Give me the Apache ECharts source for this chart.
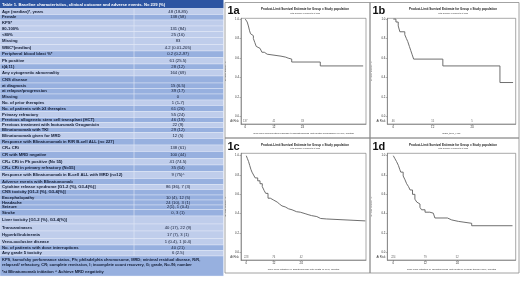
<!DOCTYPE html>
<html lang="en">
<head>
<meta charset="UTF-8" />
<title>Table 1 and survival curves</title>
<script src="https://cdn.jsdelivr.net/npm/echarts@6.0.0/dist/echarts.min.js"></script>
<style>
  html, body { margin: 0; padding: 0; background: #fff; }
  #main { width: 520px; height: 292px; }
</style>
</head>
<body>
<div id="main"></div>
<script>
// ---- table data ----
const tableTitle = 'Table 1. Baseline characteristics, clinical outcome and adverse events. N= 239 (%)';
const rowLabels = [
  'Age (median)*, years', 'Female', 'KPS*', '80-100%', '<80%', 'Missing',
  'WBC*(median)', 'Peripheral blood blast %*', 'Ph positive', 't(4;11)',
  'Any cytogenetic abnormality', 'CNS disease', 'at diagnosis', 'at relapse/progression', 'Missing',
  'No. of prior therapies', 'No. of patients with \u22653 therapies', 'Primary refractory',
  'Previous allogeneic stem cell transplant (HCT)', 'Previous treatment with Inotuzumab Ozogamicin',
  'Blinatumomab with TKI', 'Blinatumomab given for MRD',
  'Response with Blinatumomab in R/R B-cell ALL (n= 227)', 'CR+ CRi', 'CR with MRD negative',
  'CR+ CRi in Ph positive (N= 55)', 'CR+ CRi in primary refractory (N=55)',
  'Response with Blinatumomab in B-cell ALL with MRD (n=12)', 'Adverse events with Blinatumomab',
  'Cytokine release syndrome [G1-2 (%), G3-4(%)]', 'CNS toxicity [G1-2 (%), G3-4(%)]',
  'Encephalopathy', 'Headache', 'Seizure', 'Stroke', 'Liver toxicity [G1-2 (%), G3-4(%)]',
  'Transaminases', 'Hyperbilirubinemia', 'Veno-occlusive disease',
  'No. of patients with dose interruptions', 'Any grade 5 toxicity'
];
const rowValues = [
  '48 (18-85)', '138 (58)', '', '131 (84)', '25 (16)', '83',
  '4.2 (0.01-205)', '0.2 (0.2-97)', '61 (25.5)', '28 (12)',
  '164 (69)', '', '15 (6.5)', '39 (17)', '0',
  '1 (1-7)', '61 (26)', '55 (24)',
  '46 (19)', '22 (9)',
  '29 (12)', '12 (5)',
  '', '138 (61)', '100 (44)',
  '41 (74.5)', '35 (64)',
  '9 (75)^', '',
  '86 (36), 7 (3)', '',
  '10 (4), 12 (5)', '24 (10), 3 (1)', '2(1), 1 (0.4)', '0, 3 (1)', '',
  '40 (17), 22 (9)', '17 (7), 3 (1)', '1 (0.4), 1 (0.4)',
  '40 (21)', '6 (2.5)'
];
const footnotes = [
  'KPS, karnofsky performance status, Ph; philadelphia chromosome, MRD; minimal residual disease, R/R,',
  'relapsed/ refractory, CR; complete remission, I; incomplete count recovery, G; grade, No./N; number',
  '*at Blinatumomab initiation ^ Achieve MRD negativity'
];

// layout of the table rows (px) and row shading, L = light, M = medium
const rowHeights = [6, 5.5, 6, 5.5, 6, 7, 6.5, 6.5, 6.5, 5.5, 6.5, 7, 5.5, 5.5, 6, 5.5, 6, 6, 5, 5, 5, 6,
  6.5, 6.5, 7, 6.5, 6.5, 7, 6, 5, 5.5, 5, 5, 4.5, 6.5, 8, 7, 7.5, 6.5, 5.5, 5.5];
const rowShade = 'LMLLLLLMLMLMMMMLMLMLMLMLMLMLMLMMMMMLLLLML';

// ---- survival curves (months, probability) ----
const riskTimes = [0, 12, 24];
const km1a = [[0, 1], [0.8, 0.97], [1.3, 0.93], [1.8, 0.88], [2.2, 0.85], [2.9, 0.83], [3.4, 0.8],
  [4.0, 0.76], [4.6, 0.72], [5.4, 0.7], [6.2, 0.68], [7.0, 0.66], [8.0, 0.64], [9.2, 0.62],
  [15.0, 0.61], [17.0, 0.6], [18.0, 0.59], [19.5, 0.56], [31.5, 0.52], [49.5, 0.52]];
const km1b = [[0, 1], [0.8, 0.97], [1.5, 0.93], [2.0, 0.87], [3.5, 0.84], [4.0, 0.8], [4.4, 0.77],
  [4.9, 0.72], [5.3, 0.68], [5.7, 0.64], [6.2, 0.59], [15.1, 0.52], [32.5, 0.35], [36.5, 0.35]];
const km1c = [[0, 1], [0.5, 0.97], [1, 0.94], [1.5, 0.9], [2, 0.86], [2.5, 0.83], [3.2, 0.8], [3.9, 0.77],
  [5, 0.74], [6, 0.71], [7, 0.68], [7.8, 0.64], [8.5, 0.61], [9.5, 0.56], [10.5, 0.54], [12, 0.52],
  [13.5, 0.5], [14.5, 0.48], [15.6, 0.47], [17, 0.45], [18.5, 0.44], [20, 0.42], [22, 0.415],
  [23.6, 0.4], [25.7, 0.39], [27, 0.38], [28.5, 0.37], [30.8, 0.35], [32.5, 0.345], [35, 0.325], [52, 0.325]];
const km1d = [[0, 1], [0.6, 0.97], [1.2, 0.94], [1.9, 0.9], [2.4, 0.86], [2.8, 0.83], [3.7, 0.79],
  [4.4, 0.75], [5, 0.71], [5.7, 0.68], [6.3, 0.645], [7.2, 0.6], [8.1, 0.55], [8.8, 0.52], [9.4, 0.5],
  [10, 0.465], [10.6, 0.44], [11.9, 0.415], [13.7, 0.405], [15, 0.39], [15.6, 0.355], [20.3, 0.335],
  [21.9, 0.32], [24.4, 0.3], [29.4, 0.275], [44.7, 0.275]];
const atRisk1a = ['137', '41', '33'];
const atRisk1b = ['46', '15', '5'];
const atRisk1c = ['228', '76', '42'];
const atRisk1d = ['224', '79', '52'];
const yTicks = [0, 0.2, 0.4, 0.6, 0.8, 1.0];

const plotTitle = 'Product-Limit Survival Estimate for Group = Study population';
const plotSub = 'With Number of Subjects at Risk';

const panels = [
  { tag: '1a', data: km1a, risk: atRisk1a, frame: [225, 2.5, 145, 135.5],
    box: [241, 18.3, 125, 105.7], xr: [-1.8, 50.7], yr: [-0.075, 1.008], riskY: -0.044,
    xTitle: 'Time from documented response to Blinatumomab until death/ progression or LFU, months' },
  { tag: '1b', data: km1b, risk: atRisk1b, frame: [370, 2.5, 149, 135.5],
    box: [387.3, 18.3, 128.4, 105.7], xr: [-1.83, 37.3], yr: [-0.075, 1.008], riskY: -0.044,
    xTitle: 'DOR_time_HCT' },
  { tag: '1c', data: km1c, risk: atRisk1c, frame: [225, 138, 145, 135],
    box: [241, 153.3, 125, 106.7], xr: [-2.3, 52.3], yr: [-0.08, 1.025], riskY: -0.052,
    xTitle: 'Time from initiation of  Blinatumomab until death or LFU, months' },
  { tag: '1d', data: km1d, risk: atRisk1d, frame: [370, 138, 149, 135],
    box: [387.3, 153.3, 128.4, 106.7], xr: [-2.25, 45.9], yr: [-0.08, 1.025], riskY: -0.052,
    xTitle: 'Time from initiation of  Blinatumomab until death or cellular therapy/LFU, months' }
];

// ---- build the table with graphic elements ----
const FONT = '"Liberation Sans", Arial, sans-serif';
const shadeColor = { L: '#bfcdeb', M: '#97b0df' };
const tableW = 223.5, divX = 134;
const gfx = [];
gfx.push({ type: 'rect', shape: { x: 0, y: 0, width: tableW, height: 8.5 }, style: { fill: '#2d55a2' } });
gfx.push({ type: 'text', x: 2, y: 4.6, style: { text: tableTitle, fill: '#fff', font: 'bold 4.2px ' + FONT,
  verticalAlign: 'middle', textVerticalAlign: 'middle' } });
let yy = 8.5;
rowLabels.forEach((lab, i) => {
  const h = rowHeights[i];
  gfx.push({ type: 'rect', shape: { x: 0, y: yy, width: tableW, height: h },
    style: { fill: shadeColor[rowShade[i]], stroke: '#e8eef9', lineWidth: 0.4 } });
  gfx.push({ type: 'text', x: 2, y: yy + h / 2, style: { text: lab, fill: '#121c34', font: 'bold 4.2px ' + FONT,
    verticalAlign: 'middle', textVerticalAlign: 'middle' } });
  if (rowValues[i]) {
    gfx.push({ type: 'text', x: 178, y: yy + h / 2, style: { text: rowValues[i], fill: '#121c34', font: '4.2px ' + FONT,
      align: 'center', textAlign: 'center', verticalAlign: 'middle', textVerticalAlign: 'middle' } });
  }
  yy += h;
});
gfx.push({ type: 'line', shape: { x1: divX, y1: 8.5, x2: divX, y2: yy }, style: { stroke: '#e2e9f7', lineWidth: 0.6 } });
gfx.push({ type: 'rect', shape: { x: 0, y: yy, width: tableW, height: 276 - yy },
  style: { fill: shadeColor.M, stroke: '#e8eef9', lineWidth: 0.4 } });
[yy + 4, yy + 9, yy + 15.5].forEach((ty, k) => {
  gfx.push({ type: 'text', x: 2, y: ty, style: { text: footnotes[k], fill: '#121c34', font: 'bold 4px ' + FONT,
    verticalAlign: 'middle', textVerticalAlign: 'middle' } });
});

// ---- panel frames, labels and titles ----
panels.forEach(p => {
  const [fx, fy, fw, fh] = p.frame;
  gfx.push({ type: 'rect', shape: { x: fx, y: fy, width: fw, height: fh },
    style: { fill: 'none', stroke: '#8c8c8c', lineWidth: 0.8 } });
  gfx.push({ type: 'text', x: fx + 2.5, y: fy + 8.5, style: { text: p.tag, fill: '#111', font: 'bold 11px ' + FONT,
    verticalAlign: 'middle', textVerticalAlign: 'middle' } });
  const cx = p.box[0] + p.box[2] / 2 + 1.5;
  gfx.push({ type: 'text', x: cx, y: fy + 7, style: { text: plotTitle, fill: '#222', font: 'bold 3px ' + FONT,
    align: 'center', textAlign: 'center', verticalAlign: 'middle', textVerticalAlign: 'middle' } });
  gfx.push({ type: 'text', x: cx, y: fy + 10.8, style: { text: plotSub, fill: '#333', font: '2.1px ' + FONT,
    align: 'center', textAlign: 'center', verticalAlign: 'middle', textVerticalAlign: 'middle' } });
});

const axisColor = '#6e6e6e';
const option = {
  animation: false,
  backgroundColor: '#fff',
  textStyle: { fontFamily: FONT },
  graphic: { elements: gfx },
  grid: panels.map(p => ({
    left: p.box[0], top: p.box[1], width: p.box[2], height: p.box[3],
    show: true, borderColor: axisColor, borderWidth: 0.6, backgroundColor: '#fff', containLabel: false
  })),
  xAxis: panels.map((p, i) => ({
    gridIndex: i, type: 'value', min: p.xr[0], max: p.xr[1],
    axisLine: { show: true, onZero: false, lineStyle: { color: axisColor, width: 0.6 } },
    axisTick: { show: true, length: 1.5, customValues: riskTimes, lineStyle: { color: axisColor, width: 0.5 } },
    axisLabel: { customValues: riskTimes, fontSize: 2.9, color: '#333', margin: 1.3 },
    splitLine: { show: false },
    name: p.xTitle, nameLocation: 'middle', nameGap: 7.5,
    nameTextStyle: { fontSize: 2.5, color: '#333' }
  })),
  yAxis: panels.map((p, i) => ({
    gridIndex: i, type: 'value', min: p.yr[0], max: p.yr[1],
    axisLine: { show: true, onZero: false, lineStyle: { color: axisColor, width: 0.6 } },
    axisTick: { show: true, length: 1.5, customValues: yTicks, lineStyle: { color: axisColor, width: 0.5 } },
    axisLabel: { customValues: [p.riskY].concat(yTicks), fontSize: 2.8, color: '#333', margin: 2,
      formatter: v => (v < 0 ? 'At Risk' : Number(v).toFixed(1)) },
    splitLine: { show: false },
    name: 'Survival Probability', nameLocation: 'middle', nameGap: 10,
    nameTextStyle: { fontSize: 2.3, color: '#333' }
  })),
  series: panels.flatMap((p, i) => [
    { type: 'line', xAxisIndex: i, yAxisIndex: i, step: 'end', symbol: 'none', data: p.data,
      lineStyle: { color: '#5f5f5f', width: 0.9 } },
    { type: 'scatter', xAxisIndex: i, yAxisIndex: i, symbolSize: 1, itemStyle: { color: 'rgba(0,0,0,0)' },
      data: riskTimes.map((t, k) => [t, p.riskY, p.risk[k]]),
      label: { show: true, position: 'inside', formatter: d => d.value[2], fontSize: 2.6, color: '#333' } }
  ])
};

const chart = echarts.init(document.getElementById('main'));
chart.setOption(option);
</script>
</body>
</html>
